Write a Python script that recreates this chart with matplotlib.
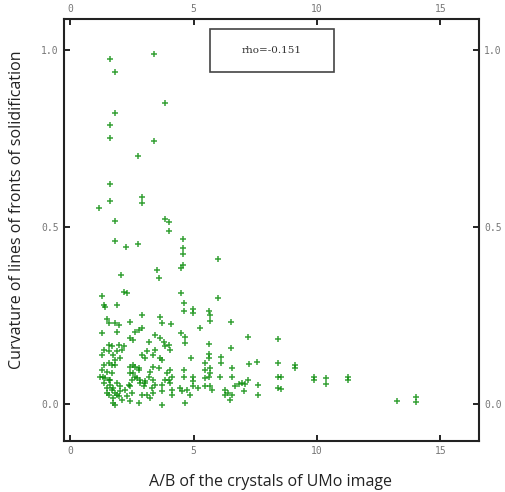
import numpy as np
import matplotlib
matplotlib.use('Agg')
import matplotlib.pyplot as plt
from matplotlib.patches import Rectangle

# A/B ratio (x) and curvature (y)
# upper sparse points
x_top = [1.59, 3.40, 1.82, 3.85, 1.82, 1.62, 1.59, 3.40, 2.75, 1.62, 1.62, 2.90, 2.90,
         1.17, 1.82, 3.85, 3.98, 3.98, 4.55, 1.82, 2.27, 2.75, 4.55, 4.55, 5.98, 4.55,
         4.49, 2.05, 3.51, 3.60]
y_top = [0.974, 0.989, 0.939, 0.852, 0.822, 0.790, 0.753, 0.743, 0.700, 0.621, 0.574, 0.584, 0.569,
         0.553, 0.518, 0.524, 0.514, 0.490, 0.465, 0.460, 0.444, 0.453, 0.441, 0.424, 0.409, 0.393,
         0.383, 0.365, 0.377, 0.355]

# left part of the dense cluster
x_left = [2.16, 2.29, 1.28, 1.35, 1.42, 1.89, 1.48, 1.55, 1.82, 1.96, 1.89, 2.43, 2.90, 1.28,
          2.63, 2.77, 2.90, 2.43, 2.56, 1.55, 1.69, 1.96, 2.16, 1.35, 1.55, 1.89, 2.09, 1.28,
          1.75, 2.90, 1.35, 1.55, 1.82, 1.28, 1.48, 1.69, 1.21, 1.42, 1.55, 1.35, 1.62, 1.89,
          1.48, 1.69, 1.82, 1.55, 1.96, 2.23, 2.36, 2.50, 2.63, 2.77, 2.56, 2.70, 2.83, 2.50,
          2.29, 2.09, 1.82, 2.43, 2.90, 1.48, 1.75, 2.02, 2.02, 1.89, 1.75, 1.75, 2.43, 2.77,
          1.32, 2.43, 2.63, 1.69, 1.82, 2.02, 1.62, 2.83, 3.04, 2.43, 2.56, 2.77]
y_left = [0.317, 0.314, 0.305, 0.280, 0.273, 0.280, 0.239, 0.228, 0.228, 0.223, 0.204, 0.230, 0.251, 0.200,
          0.204, 0.209, 0.214, 0.186, 0.181, 0.167, 0.162, 0.167, 0.162, 0.153, 0.148, 0.148, 0.153, 0.138,
          0.138, 0.138, 0.110, 0.115, 0.110, 0.096, 0.091, 0.087, 0.077, 0.073, 0.068, 0.058, 0.054, 0.058,
          0.044, 0.040, 0.030, 0.025, 0.021, 0.040, 0.054, 0.068, 0.105, 0.096, 0.087, 0.073, 0.058, 0.030,
          0.021, 0.011, -0.003, 0.007, 0.025, 0.030, 0.044, 0.049, 0.035, 0.025, 0.016, 0.002, 0.049, 0.002,
          0.077, 0.087, 0.077, 0.110, 0.124, 0.129, 0.068, 0.068, 0.058, 0.105, 0.110, 0.101]

# middle part of the cluster
x_mid = [4.48, 4.59, 4.62, 4.99, 4.99, 3.64, 3.71, 4.08, 5.26, 3.44, 3.64, 3.17, 3.78, 4.48,
         4.66, 4.66, 3.98, 3.85, 4.05, 3.44, 3.37, 3.10, 3.04, 3.64, 3.71, 4.89, 5.47, 5.47,
         3.37, 3.24, 3.58, 4.05, 3.91, 4.12, 3.85, 3.98, 4.59, 4.59, 4.99, 4.99, 5.47, 5.47,
         3.17, 3.37, 3.04, 3.44, 3.31, 2.97, 3.71, 4.05, 3.71, 4.12, 4.45, 4.52, 4.72, 4.99,
         5.19, 4.86, 3.10, 3.37, 3.24, 4.12, 4.66, 3.71]
y_mid = [0.313, 0.284, 0.261, 0.268, 0.258, 0.245, 0.228, 0.225, 0.214, 0.195, 0.186, 0.176, 0.176, 0.201,
         0.190, 0.171, 0.167, 0.162, 0.153, 0.153, 0.138, 0.148, 0.129, 0.129, 0.124, 0.129, 0.115, 0.096,
         0.104, 0.091, 0.101, 0.096, 0.087, 0.077, 0.068, 0.068, 0.096, 0.077, 0.077, 0.063, 0.073, 0.049,
         0.077, 0.068, 0.063, 0.054, 0.044, 0.049, 0.054, 0.058, 0.035, 0.040, 0.044, 0.035, 0.040, 0.049,
         0.044, 0.025, 0.025, 0.030, 0.016, 0.025, 0.002, -0.003]

# right part of the cluster
x_right = [5.98, 5.63, 5.67, 5.67, 6.52, 7.19, 8.41, 5.63, 6.52, 5.63, 5.63, 6.11, 6.11, 7.25,
           7.56, 8.41, 5.67, 5.67, 6.55, 6.07, 6.55, 5.63, 7.22, 8.41, 6.82, 6.68, 6.95, 7.09,
           7.60, 7.60, 5.67, 5.74, 6.28, 6.41, 6.55, 6.28, 6.48, 7.04, 8.41]
y_right = [0.298, 0.261, 0.251, 0.234, 0.231, 0.188, 0.184, 0.169, 0.159, 0.141, 0.129, 0.132, 0.115, 0.113,
           0.118, 0.115, 0.101, 0.087, 0.101, 0.075, 0.075, 0.077, 0.068, 0.077, 0.056, 0.051, 0.058, 0.056,
           0.054, 0.025, 0.049, 0.040, 0.040, 0.030, 0.025, 0.025, 0.011, 0.035, 0.044]

# far right outliers
x_far = [9.11, 9.11, 8.53, 8.53, 9.89, 9.89, 10.35, 10.35, 11.24, 11.24, 13.22, 14.0, 14.0]
y_far = [0.110, 0.101, 0.077, 0.042, 0.077, 0.068, 0.074, 0.056, 0.075, 0.068, 0.008, 0.018, 0.004]

rho_text = "rho=-0.151"

xs = np.array(x_top + x_left + x_mid + x_right + x_far)
ys = np.array(y_top + y_left + y_mid + y_right + y_far)

fig = plt.figure(figsize=(5.05, 4.92), dpi=100)
ax = fig.add_axes([0.127, 0.104, 0.821, 0.857])

ax.plot(xs, ys, '+', color='#058a05', alpha=0.8, markersize=5, mew=1.1)

ax.set_xlim(-0.25, 16.55)
ax.set_ylim(-0.105, 1.088)
ax.set_xticks([0, 5, 10, 15])
ax.set_yticks([0.0, 0.5, 1.0])
ax.set_yticklabels(['0.0', '0.5', '1.0'])

ax.tick_params(direction='in', length=4, width=1.2, top=True, right=True,
               labeltop=True, labelright=True, labelsize=7, labelcolor='#777777', pad=4)
for lab in ax.xaxis.get_ticklabels(which='both') + ax.yaxis.get_ticklabels(which='both'):
    lab.set_family('DejaVu Sans Mono')
for sp in ax.spines.values():
    sp.set_linewidth(1.5)
    sp.set_color('#222222')

# rho box
ax.add_patch(Rectangle((0.352, 0.874), 0.299, 0.102, transform=ax.transAxes,
                       fill=False, edgecolor='#444444', lw=1.2))
ax.text(0.5015, 0.925, rho_text, transform=ax.transAxes, ha='center', va='center',
        fontsize=7.5, family='DejaVu Serif', color='#333333')

fig.text(0.535, 0.020, "A/B of the crystals of UMo image", ha='center', va='center',
         fontsize=11.5, family='Open Sans', color='#222222')
fig.text(0.034, 0.573, "Curvature of lines of fronts of solidification", ha='center', va='center',
         rotation=90, fontsize=11.5, family='Open Sans', color='#222222')

fig.savefig('out.png', dpi=100)
